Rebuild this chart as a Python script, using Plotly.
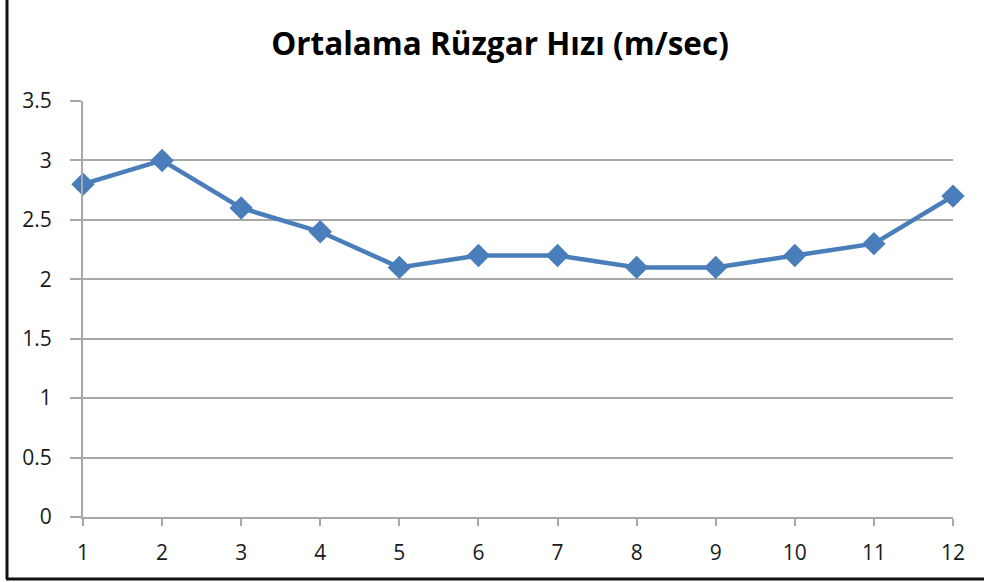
import plotly.graph_objects as go

months = [1, 2, 3, 4, 5, 6, 7, 8, 9, 10, 11, 12]
wind_speed = [2.8, 3.0, 2.6, 2.4, 2.1, 2.2, 2.2, 2.1, 2.1, 2.2, 2.3, 2.7]
y_ticks = [0, 0.5, 1, 1.5, 2, 2.5, 3, 3.5]
y_tick_labels = ["0", "0.5", "1", "1.5", "2", "2.5", "3", "3.5"]
title_text = "Ortalama Rüzgar Hızı (m/sec)"

W, H = 984, 582
L, R, T, B = 83, 31, 101, 65
pw, ph = W - L - R, H - T - B

def px_x(p):
    return (p - L) / pw

def px_y(p):
    return (H - B - p) / ph

fig = go.Figure()
fig.add_trace(go.Scatter(
    x=months, y=wind_speed, mode="lines+markers",
    line=dict(color="#4A7EBB", width=4.5),
    marker=dict(symbol="diamond", size=18, color="#4A7EBB"),
    cliponaxis=False, showlegend=False,
))

fig.update_layout(
    width=W, height=H,
    margin=dict(l=L, r=R, t=T, b=B, pad=0),
    paper_bgcolor="white", plot_bgcolor="white",
    title=dict(text=title_text, x=500 / W, xanchor="center", xref="container",
               y=1 - 44 / H, yanchor="middle", yref="container",
               font=dict(family="Open Sans", size=31.5, color="#000000", weight="bold")),
    font=dict(family="Open Sans", size=21, color="#1a1a1a"),
    xaxis=dict(range=[1, 12], tickvals=months, ticktext=[str(m) for m in months],
               showgrid=False, zeroline=False, showline=True, linecolor="#A8A8A8",
               linewidth=2, ticks="outside", ticklen=7, tickcolor="#A8A8A8",
               tickwidth=2, ticklabelstandoff=9),
    yaxis=dict(range=[0, 3.5], tickvals=y_ticks, ticktext=y_tick_labels,
               showgrid=True, gridcolor="#A8A8A8", gridwidth=1.5, zeroline=False,
               showline=True, linecolor="#A8A8A8", linewidth=2,
               ticks="outside", ticklen=11, tickcolor="#A8A8A8", tickwidth=1.5,
               ticklabelstandoff=14),
    shapes=[
        dict(type="line", xref="paper", yref="paper",
             x0=px_x(7), x1=px_x(7), y0=px_y(579), y1=px_y(0),
             line=dict(color="#111111", width=3)),
        dict(type="line", xref="paper", yref="paper",
             x0=px_x(6), x1=px_x(984), y0=px_y(579), y1=px_y(579),
             line=dict(color="#111111", width=3)),
    ],
)

fig.write_html("out.html", config={"displayModeBar": False},
               post_script="document.body.style.margin='0';document.body.style.overflow='hidden';")
